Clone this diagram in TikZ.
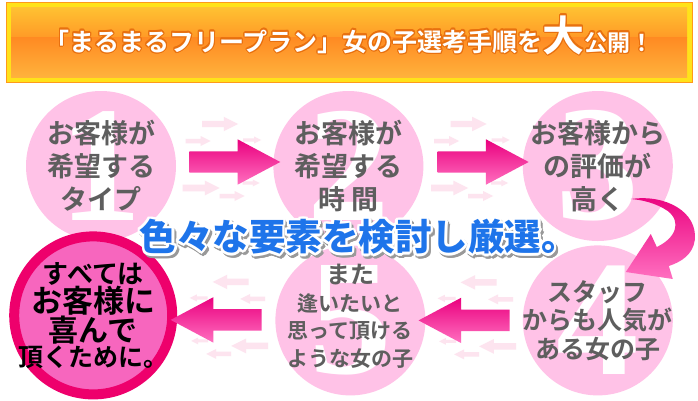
\documentclass[tikz,border=0pt]{standalone}
\usepackage{fontspec}
\usepackage{contour}
\usetikzlibrary{shapes.arrows, positioning, calc}
\newfontfamily\jp{Noto Sans CJK JP}[BoldFont={Noto Sans CJK JP Bold}]
\newfontfamily\jpheavy{Noto Sans CJK JP Black}
\newfontfamily\numfont{Liberation Serif}
\definecolor{bubble}{HTML}{FFC2E7}
\definecolor{inkgray}{HTML}{5E5E5E}
\definecolor{rosedark}{HTML}{EA007E}
\definecolor{roselight}{HTML}{FF70C0}
\definecolor{faintpink}{HTML}{FDE4EF}
\definecolor{ringred}{HTML}{EE006C}
\definecolor{goalpink}{HTML}{F766BE}
\definecolor{skyblue}{HTML}{1E74EA}
\definecolor{bannerrim}{HTML}{FFE21A}
\definecolor{bannertop}{HTML}{FFC232}
\definecolor{bannermid}{HTML}{FF8A22}
\definecolor{bannerlow}{HTML}{FFB23C}
\definecolor{bannerline}{HTML}{FF9A1A}
\definecolor{glow}{HTML}{E8700F}

\begin{document}
\begin{tikzpicture}[x=1pt, y=-1pt,
  stage/.style   = {circle, fill=bubble, minimum size=150pt, inner sep=0pt},
  goal/.style    = {circle, fill=goalpink, draw=ringred, line width=10pt, minimum size=158pt, inner sep=0pt},
  numeral/.style = {text=white, font=\numfont\bfseries\fontsize{165}{165}\selectfont, inner sep=0pt},
  caption/.style = {text=inkgray, align=center, inner sep=0pt},
  bigarrow/.style = {single arrow, top color=rosedark, bottom color=roselight, minimum height=91pt,
                     text height=21pt, text depth=0pt, inner sep=0pt,
                     single arrow head extend=12pt, single arrow tip angle=56},
  faint/.style   = {fill=faintpink}]

\useasboundingbox (0,0) rectangle (698,400);
\fill[white] (0,0) rectangle (698,400);

% title banner
\fill[bannerrim] (6,2) rectangle (692,82);
\shade[top color=bannertop, bottom color=bannermid!70!bannertop] (11,7) rectangle (687,37);
\shade[top color=bannermid, bottom color=bannerlow] (11,37) rectangle (687,77);
\draw[bannerline, line width=1pt] (6,2) rectangle (692,82);
\node[anchor=base, text=white, font=\jp\bfseries, inner sep=0pt] (title) at (349,51)
  {\contourlength{1.2pt}\contour{glow}{\fontsize{25}{25}\selectfont 「まるまるフリープラン」女の子選考手順を\fontsize{42}{42}\selectfont 大\fontsize{23}{23}\selectfont 公開！}};

% the five stages
\node[stage] (c1) at (101,166) {};
\node[stage, right=97pt of c1] (c2) {};
\node[stage, right=99pt of c2] (c3) {};
\node[stage, below=4pt of c3] (c4) {};
\node[stage, left=97pt of c4] (c5) {};

\foreach \i in {1,...,5}
  \node[numeral] (n\i) at (c\i) {\i};

\node[caption, font=\jp\bfseries\fontsize{27}{33}\selectfont] (t1) at (c1) {お客様が\\希望する\\タイプ};
\node[caption, font=\jp\bfseries\fontsize{27}{33}\selectfont] (t2) at (c2) {お客様が\\希望する\\時\hspace{6pt}間};
\node[caption, font=\jp\bfseries\fontsize{27}{33}\selectfont] (t3) at (c3) {お客様から\\の評価が\\高く};
\node[caption, font=\jp\bfseries\fontsize{25}{28.5}\selectfont] (t4) at (c4) {スタッフ\\からも人気が\\ある女の子};
\node[caption, font=\jp\bfseries\fontsize{21}{27.5}\selectfont, yshift=4pt] (t5) at (c5)
  {\fontsize{24}{27.5}\selectfont また\\\fontsize{21}{27.5}\selectfont 逢いたいと\\思って頂ける\\ような女の子};

% the goal
\node[goal, left=98pt of c5, yshift=5pt] (c6) {};
\node[caption, text=black, font=\jp\bfseries] (t6) at (c6)
  {\fontsize{26}{34.5}\selectfont すべては\\\fontsize{31}{34.5}\selectfont お客様に\\\fontsize{30}{34.5}\selectfont 喜んで\\\fontsize{25}{34.5}\selectfont 頂くために。};

% arrows between the stages
\coordinate (m12) at ($(c1.east)!0.5!(c2.west)+(0,-4)$);
\coordinate (m23) at ($(c2.east)!0.5!(c3.west)+(0,-4)$);
\coordinate (m45) at ($(c4.west)!0.5!(c5.east)$);
\coordinate (m56) at ($(c5.west)!0.5!(c6.east)+(0,2)$);

\foreach \m/\s in {m12/1, m23/1, m45/-1, m56/-1}
  \foreach \dx/\dy/\l in {-4.5/-38/36, -26.5/-21/25, 27.5/-22/18, -23.5/26/37, 7.5/34/25, 26.5/21/17}
    \fill[faint, shift={(\m)}, xscale=\s]
      ({\dx-\l/2},{\dy-0.09*\l}) -- ({\dx+0.1*\l},{\dy-0.09*\l}) -- ({\dx+0.1*\l},{\dy-0.2*\l})
      -- ({\dx+\l/2},\dy) -- ({\dx+0.1*\l},{\dy+0.2*\l}) -- ({\dx+0.1*\l},{\dy+0.09*\l})
      -- ({\dx-\l/2},{\dy+0.09*\l}) -- cycle;

\node[bigarrow] (a12) at (m12) {};
\node[bigarrow] (a23) at (m23) {};
\node[bigarrow, shape border rotate=180] (a45) at (m45) {};
\node[bigarrow, shape border rotate=180] (a56) at (m56) {};

% bent arrow from stage 3 down to stage 4
\shade[top color=rosedark, bottom color=roselight, shift={(c3)}]
  (33,33) .. controls (68,28) and (100,46) .. (97,74)
  .. controls (95,89) and (83,96) .. (71,100)
  -- (75,113) -- (28,106) -- (53,68) -- (59,81)
  .. controls (78,72) and (84,56) .. (70,45)
  .. controls (58,37) and (45,34) .. (33,33) -- cycle;

% motto across the middle
\node[font=\jpheavy\fontsize{36.5}{36.5}\selectfont, text=black!40] (shadow) at (360.5,240.5)
  {\contourlength{2.5pt}\contour{black!40}{色々な要素を検討し厳選。}};
\node[font=\jpheavy\fontsize{36.5}{36.5}\selectfont, text=skyblue] (motto) at (358.5,238)
  {\contourlength{2.5pt}\contour{white}{色々な要素を検討し厳選。}};

\end{tikzpicture}
\end{document}
